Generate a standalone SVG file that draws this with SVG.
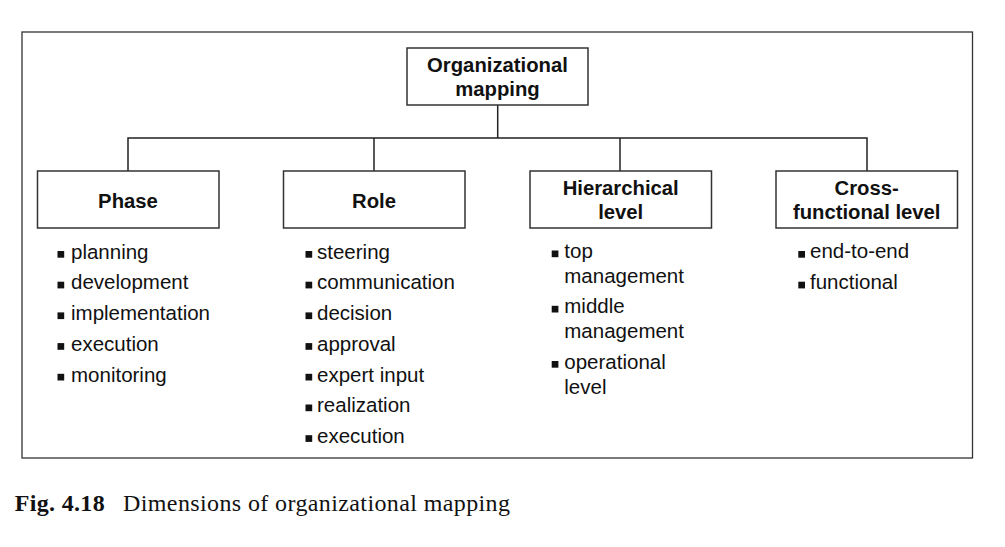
<svg xmlns="http://www.w3.org/2000/svg" width="1005" height="547" viewBox="0 0 1005 547">
<style>
.frame{fill:none;stroke:#333;stroke-width:1.3}
.box{fill:#fff;stroke:#333;stroke-width:1.5}
.conn{fill:none;stroke:#222;stroke-width:1.5}
.lbl{font-family:"Liberation Sans",Arial,sans-serif;font-weight:bold;font-size:20.3px;fill:#111;text-anchor:middle}
.item{font-family:"Liberation Sans",Arial,sans-serif;font-size:20.5px;fill:#111}
.bul{fill:#111}
.cap{font-family:"Liberation Serif","Times New Roman",serif;font-size:24px;fill:#111}
</style>
<rect class="frame" x="22" y="32" width="950.5" height="426"/>
<g id="connectors">
<path class="conn" d="M497.7 105 V138 M128 171 V138 H867 V171 M374 138 V171 M620 138 V171"/>
</g>
<g id="node-root">
<rect class="box" x="407" y="48" width="181" height="57"/>
<text class="lbl" x="497.5" y="72">Organizational</text>
<text class="lbl" x="497.5" y="96">mapping</text>
</g>
<g id="node-phase">
<rect class="box" x="37.5" y="171" width="181.5" height="57"/>
<text class="lbl" x="128" y="207.5">Phase</text>
<g class="bul"><rect x="57.5" y="251" width="6.7" height="6.7"/><rect x="57.5" y="281.7" width="6.7" height="6.7"/><rect x="57.5" y="312.4" width="6.7" height="6.7"/><rect x="57.5" y="343.1" width="6.7" height="6.7"/><rect x="57.5" y="373.8" width="6.7" height="6.7"/></g>
<text class="item" x="71" y="258.7">planning</text>
<text class="item" x="71" y="289.4">development</text>
<text class="item" x="71" y="320.1">implementation</text>
<text class="item" x="71" y="350.8">execution</text>
<text class="item" x="71" y="381.5">monitoring</text>
</g>
<g id="node-role">
<rect class="box" x="283.5" y="171" width="181.5" height="57"/>
<text class="lbl" x="374" y="207.5">Role</text>
<g class="bul"><rect x="305.5" y="251" width="6.7" height="6.7"/><rect x="305.5" y="281.7" width="6.7" height="6.7"/><rect x="305.5" y="312.4" width="6.7" height="6.7"/><rect x="305.5" y="343.1" width="6.7" height="6.7"/><rect x="305.5" y="373.8" width="6.7" height="6.7"/><rect x="305.5" y="404.5" width="6.7" height="6.7"/><rect x="305.5" y="435.2" width="6.7" height="6.7"/></g>
<text class="item" x="317" y="258.7">steering</text>
<text class="item" x="317" y="289.4">communication</text>
<text class="item" x="317" y="320.1">decision</text>
<text class="item" x="317" y="350.8">approval</text>
<text class="item" x="317" y="381.5">expert input</text>
<text class="item" x="317" y="412.2">realization</text>
<text class="item" x="317" y="442.9">execution</text>
</g>
<g id="node-hierarchical">
<rect class="box" x="530" y="171" width="181.5" height="57"/>
<text class="lbl" x="620.7" y="195">Hierarchical</text>
<text class="lbl" x="620.7" y="219">level</text>
<g class="bul"><rect x="551.7" y="250.5" width="6.7" height="6.7"/><rect x="551.7" y="305.8" width="6.7" height="6.7"/><rect x="551.7" y="361" width="6.7" height="6.7"/></g>
<text class="item" x="564.3" y="258">top</text>
<text class="item" x="564.3" y="283">management</text>
<text class="item" x="564.3" y="313.3">middle</text>
<text class="item" x="564.3" y="338.3">management</text>
<text class="item" x="564.3" y="368.5">operational</text>
<text class="item" x="564.3" y="393.5">level</text>
</g>
<g id="node-crossfunctional">
<rect class="box" x="776" y="171" width="181.5" height="57"/>
<text class="lbl" x="866.7" y="195">Cross-</text>
<text class="lbl" x="866.7" y="219">functional level</text>
<g class="bul"><rect x="798.3" y="251" width="6.7" height="6.7"/><rect x="798.3" y="281.7" width="6.7" height="6.7"/></g>
<text class="item" x="810" y="258.3">end-to-end</text>
<text class="item" x="810" y="289">functional</text>
</g>
<text class="cap" x="14.7" y="510.7" font-weight="bold" textLength="90">Fig. 4.18</text>
<text class="cap" x="123" y="510.7" textLength="387">Dimensions of organizational mapping</text>
</svg>
